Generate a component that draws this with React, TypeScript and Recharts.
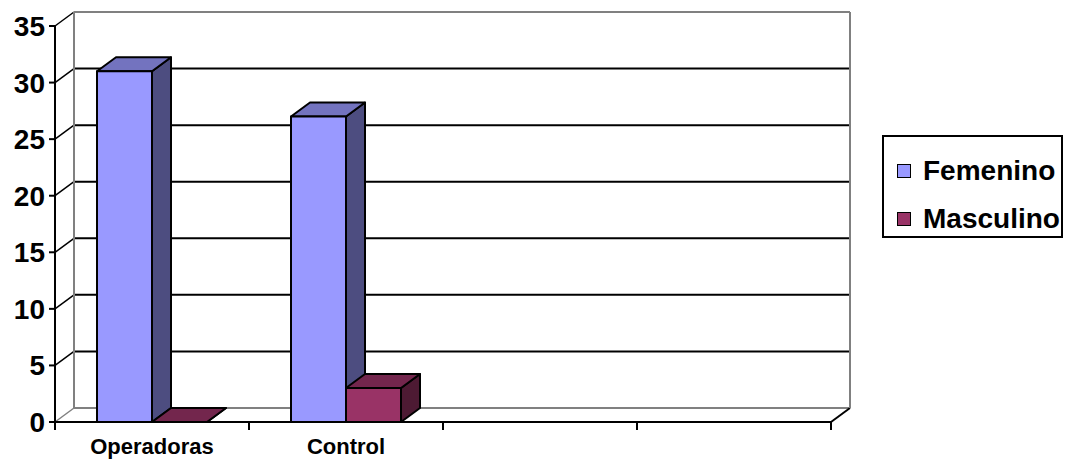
import React from 'react'
import {
  BarChart,
  Bar,
  XAxis,
  YAxis,
  CartesianGrid,
  Legend,
} from 'recharts'

const categories = ['Operadoras', 'Control', '', ' ']
const femenino = [31, 27, null, null]
const masculino = [0, 3, null, null]
const yTicks = [0, 5, 10, 15, 20, 25, 30, 35]

const data = categories.map((name, i) => ({
  name,
  Femenino: femenino[i],
  Masculino: masculino[i],
}))

const FONT = '"Liberation Sans", Arial, sans-serif'
const W = 1071
const H = 459
const PLOT_LEFT = 55
const PLOT_RIGHT = 831
const DX = 19
const DY = -14

const colors = {
  Femenino: { front: '#9999FF', top: '#7373BF', side: '#4D4D80' },
  Masculino: { front: '#993366', top: '#73264D', side: '#4D1A33' },
}

const make3DBar = (c: { front: string; top: string; side: string }) => (props: any) => {
  const { x, y, width, height } = props
  if (x == null || y == null || Number.isNaN(y)) return null
  const h = Math.max(0, height || 0)
  const top = `${x},${y} ${x + DX},${y + DY} ${x + width + DX},${y + DY} ${x + width},${y}`
  const side = `${x + width},${y} ${x + width + DX},${y + DY} ${x + width + DX},${y + h + DY} ${x + width},${y + h}`
  return (
    <g stroke="#000" strokeWidth={2} strokeLinejoin="round">
      <polygon points={side} fill={c.side} />
      <polygon points={top} fill={c.top} />
      {h > 0 && <rect x={x} y={y} width={width} height={h} fill={c.front} />}
    </g>
  )
}

const GridLine = (props: any) => {
  const { x1, x2, y1, index, y, height } = props
  const isTop = index === 0 || Math.abs(y1 - y) < 0.5
  const isBottom = Math.abs(y1 - (y + height)) < 0.5
  const wallColor = '#808080'
  return (
    <g fill="none">
      <line
        x1={x1 + DX}
        y1={y1 + DY}
        x2={x2 + DX}
        y2={y1 + DY}
        stroke={isTop || isBottom ? wallColor : '#000'}
        strokeWidth={2}
      />
      <line
        x1={x1}
        y1={y1}
        x2={x1 + DX}
        y2={y1 + DY}
        stroke={isBottom ? wallColor : '#000'}
        strokeWidth={1.5}
      />
      {isTop && (
        <>
          <line x1={x1 + DX} y1={y1 + DY} x2={x1 + DX} y2={y + height + DY} stroke={wallColor} strokeWidth={2} />
          <line x1={x2 + DX} y1={y1 + DY} x2={x2 + DX} y2={y + height + DY} stroke={wallColor} strokeWidth={2} />
        </>
      )}
      {isBottom && (
        <line x1={x2} y1={y1} x2={x2 + DX} y2={y1 + DY} stroke="#000" strokeWidth={2} />
      )}
    </g>
  )
}

const band = (PLOT_RIGHT - PLOT_LEFT) / categories.length

const XTick = (props: any) => {
  const { x, y, payload, index } = props
  const left = x - band / 2
  const right = x + band / 2
  return (
    <g>
      <line x1={left} y1={y} x2={left} y2={y + 8} stroke="#000" strokeWidth={2} />
      {index === categories.length - 1 && (
        <line x1={right} y1={y} x2={right} y2={y + 8} stroke="#000" strokeWidth={2} />
      )}
      <text
        x={x}
        y={y + 32}
        textAnchor="middle"
        fontFamily={FONT}
        fontWeight="bold"
        fontSize={22}
        fill="#000"
      >
        {payload.value}
      </text>
    </g>
  )
}

const renderLegend = () => (
  <div
    style={{
      border: '2px solid #000',
      width: 181,
      height: 103,
      boxSizing: 'border-box',
      padding: '10px 0 0 13px',
      fontFamily: FONT,
      fontWeight: 'bold',
      fontSize: 28,
      background: '#fff',
    }}
  >
    {(['Femenino', 'Masculino'] as const).map((name) => (
      <div key={name} style={{ display: 'flex', alignItems: 'center', height: 48 }}>
        <span
          style={{
            display: 'inline-block',
            width: 12,
            height: 12,
            border: '1.5px solid #000',
            background: colors[name].front,
            marginRight: 12,
          }}
        />
        <span>{name}</span>
      </div>
    ))}
  </div>
)

export default function App() {
  return (
    <div style={{ position: 'absolute', left: 0, top: 0, width: W, height: H, background: '#fff' }}>
      <BarChart
        width={W}
        height={H}
        data={data}
        margin={{ top: 26, right: W - PLOT_RIGHT, bottom: 0, left: 0 }}
        barCategoryGap={42}
        barGap={0}
      >
        <CartesianGrid vertical={false} horizontal={(p: any) => <GridLine key={p.key} {...p} />} />
        <XAxis
          dataKey="name"
          height={37}
          tickLine={false}
          tickSize={0}
          tickMargin={0}
          axisLine={{ stroke: '#000', strokeWidth: 2 }}
          tick={<XTick />}
          interval={0}
        />
        <YAxis
          width={PLOT_LEFT}
          domain={[0, 35]}
          ticks={yTicks}
          interval={0}
          tickSize={6}
          tickMargin={4}
          axisLine={{ stroke: '#000', strokeWidth: 2 }}
          tickLine={{ stroke: '#000', strokeWidth: 2 }}
          tick={{ fill: '#000', fontSize: 28, fontWeight: 'bold', fontFamily: FONT }}
        />
        <Legend
          layout="horizontal"
          verticalAlign="middle"
          align="center"
          content={renderLegend}
          wrapperStyle={{ position: 'absolute', left: 882, top: 135, width: 181 }}
        />
        <Bar dataKey="Femenino" isAnimationActive={false} shape={make3DBar(colors.Femenino)} />
        <Bar dataKey="Masculino" isAnimationActive={false} shape={make3DBar(colors.Masculino)} />
      </BarChart>
    </div>
  )
}
